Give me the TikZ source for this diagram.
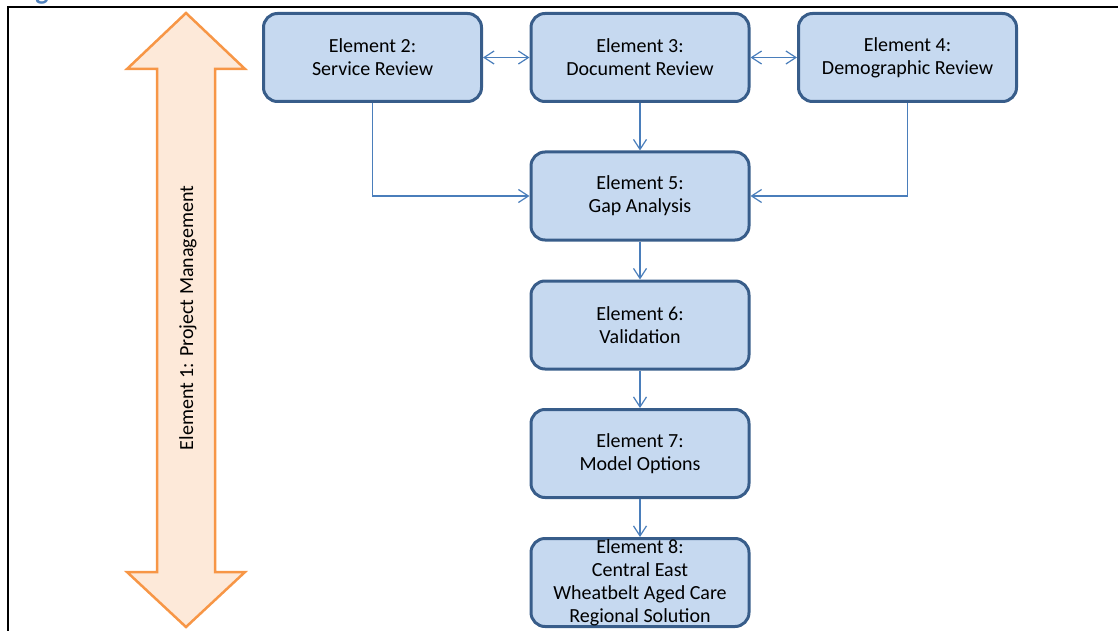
\documentclass[tikz,border=0pt]{standalone}
\usepackage{fontspec}
\setmainfont{Carlito}
\usetikzlibrary{arrows.meta}
\definecolor{boxfill}{RGB}{198,217,240}
\definecolor{boxline}{RGB}{56,93,138}
\definecolor{linkblue}{RGB}{74,126,187}
\definecolor{pmorange}{RGB}{247,150,70}
\definecolor{pmfill}{RGB}{253,233,217}
\definecolor{headblue}{RGB}{79,129,189}

\begin{document}
\begin{tikzpicture}[x=1pt,y=-1pt,
  >={Straight Barb[length=10pt,width=13pt]},
  element/.style={draw=boxline, fill=boxfill, line width=3pt, rounded corners=14pt,
    minimum width=218pt, minimum height=88pt, inner sep=0pt, align=center,
    font=\fontsize{20}{23}\selectfont},
  link/.style={draw=linkblue, line width=1.2pt}]
\useasboundingbox (0,0) rectangle (1118,631);
\begin{scope}
\clip (0,0) rectangle (1118,631);
\node[headblue, anchor=base, inner sep=0pt, font=\bfseries\fontsize{28}{30}\selectfont] (head) at (42,-0.5) {g};
\end{scope}
\draw [line width=1.7pt] (8,631) -- (8,7) -- (1118,7);

% project management arrow
\draw [pmorange, fill=pmfill, line width=2.5pt] (186,13) -- (245,69) -- (215,69) -- (215,572)
  -- (245,572) -- (186,627) -- (127,572) -- (157,572) -- (157,69) -- (127,69) -- cycle;
\node [rotate=90, font=\fontsize{20}{23}\selectfont] (pm) at (188,318) {Element 1: Project Management};

\node[element] (e2) at (372.5,57.5) {Element 2:\\Service Review};
\node[element] (e3) at (640,57.5) {Element 3:\\Document Review};
\node[element] (e4) at (907.5,57.5) {Element 4:\\Demographic Review};
\node[element] (e5) at (640,196) {Element 5:\\Gap Analysis};
\node[element] (e6) at (640,325) {Element 6:\\Validation};
\node[element] (e7) at (640,453.5) {Element 7:\\Model Options};
\node[element] (e8) at (640,582.5) {Element 8:\\Central East\\Wheatbelt Aged Care\\Regional Solution};

\draw [link, <->] (e2) -- (e3);
\draw [link, <->] (e3) -- (e4);
\draw [link, ->] (e2.south) |- (e5.west);
\draw [link, ->] (e4.south) |- (e5.east);
\draw [link, ->] (e3) -- (e5);
\draw [link, ->] (e5) -- (e6);
\draw [link, ->] (e6) -- (e7);
\draw [link, ->] (e7) -- (e8);
\end{tikzpicture}
\end{document}
